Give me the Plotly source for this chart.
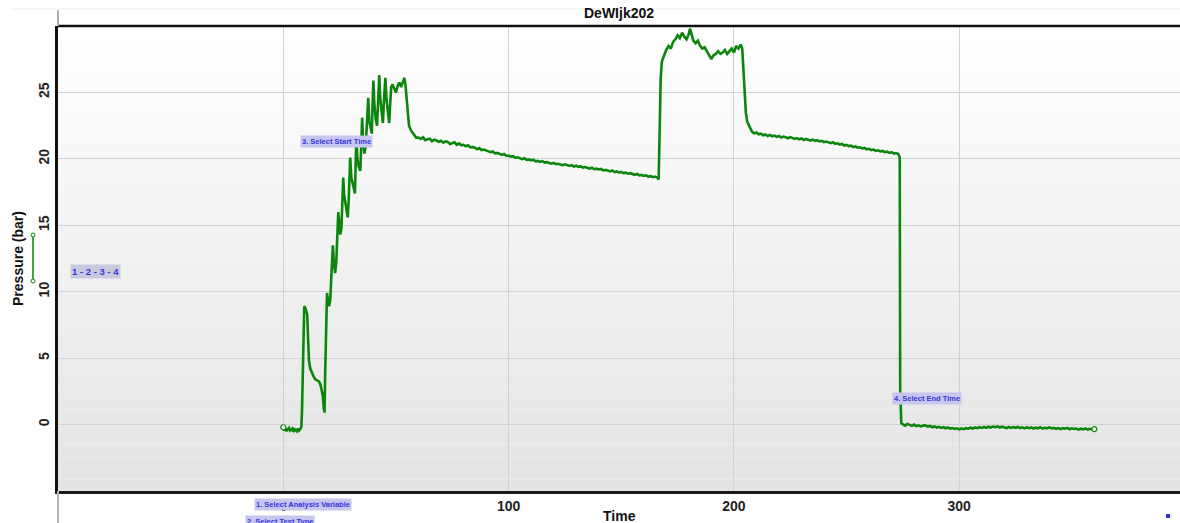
import plotly.graph_objects as go

# ---- logged pressure record (time in s, pressure in bar) ----
# pressurisation ramp with sawtooth steps
ramp_t = [0, 0.5, 1, 1.5, 2, 2.5, 3, 3.5, 4, 4.5, 5, 5.5, 6, 6.5, 7, 7.5, 8,
          8.3, 8.6, 9.0, 9.3, 9.7, 10.2, 10.6, 11.0, 11.4, 12.0, 12.8, 13.5, 14.2, 15.0, 15.8, 16.5, 17.0, 17.5, 18.0, 18.3,
          18.6, 19.0, 19.4, 19.8, 20.3, 20.8, 21.5, 22.0, 22.4, 23.0, 23.5, 24.0, 24.4, 24.8, 25.3, 25.8,
          26.3, 26.6, 27.0, 27.8, 28.6, 29.0, 29.4, 29.7, 30.2, 31.0, 31.8, 32.1, 32.4, 32.9, 33.5, 34.2,
          34.6, 35.0, 35.4, 36.0, 36.6, 37.2, 37.7, 38.2, 38.8, 39.3, 39.6, 40.0, 40.4, 41.0, 41.6,
          42.0, 42.6, 43.0, 43.6, 44.2, 44.7, 45.3, 45.8, 46.4, 47.0, 47.4, 47.9, 48.5, 49.3, 50.0,
          50.8, 51.5, 52.3, 53.0, 53.7, 54.2, 54.7, 55.2, 55.8, 56.8, 57.8, 59.0]
ramp_p = [-0.2, -0.45, -0.3, -0.5, -0.35, -0.25, -0.45, -0.4, -0.3, -0.55, -0.35, -0.4, -0.5, -0.3, -0.45, -0.35, -0.2,
          1.0, 4.5, 7.5, 8.9, 8.8, 8.6, 8.3, 6.5, 4.8, 4.2, 3.8, 3.6, 3.4, 3.3, 3.25, 3.0, 2.5, 2.2, 1.2, 0.9,
          4.0, 8.5, 9.9, 9.4, 8.9, 9.3, 11.5, 13.5, 12.3, 11.4, 12.2, 14.5, 16.0, 15.2, 14.3, 14.8,
          17.2, 18.6, 17.3, 16.3, 15.6, 16.8, 19.0, 20.1, 18.6, 18.0, 17.4, 19.5, 21.6, 20.0, 19.4, 19.1,
          21.0, 23.1, 21.4, 20.4, 21.0, 23.0, 24.6, 22.8, 22.2, 21.9, 24.0, 25.9, 24.2, 23.0, 22.5,
          24.5, 26.3, 24.6, 23.4, 22.7, 24.5, 26.1, 24.5, 23.3, 22.7, 24.0, 25.4, 25.6, 25.2, 25.0,
          25.5, 25.75, 25.4, 25.8, 26.1, 25.6, 24.4, 23.4, 22.5, 22.1, 21.9, 21.6]

# first hold, sampled every second from t = 60 s to 166 s
hold1_t = list(range(60, 167))
hold1_p = [21.6, 21.5, 21.62, 21.41, 21.47, 21.52, 21.33, 21.44, 21.38, 21.29,
           21.36, 21.22, 21.31, 21.27, 21.12, 21.2, 21.24, 21.05, 21.16, 21.02,
           21.06, 20.95, 21.02, 20.86, 20.9, 20.84, 20.73, 20.81, 20.66, 20.7,
           20.62, 20.58, 20.5, 20.56, 20.41, 20.45, 20.38, 20.3, 20.36, 20.22,
           20.25, 20.16, 20.2, 20.08, 20.12, 20.03, 19.98, 20.05, 19.93, 19.96,
           19.88, 19.94, 19.82, 19.85, 19.77, 19.83, 19.72, 19.75, 19.69, 19.64,
           19.7, 19.6, 19.63, 19.58, 19.52, 19.59, 19.5, 19.47, 19.53, 19.42,
           19.48, 19.4, 19.43, 19.34, 19.38, 19.31, 19.27, 19.33, 19.22, 19.26,
           19.2, 19.24, 19.13, 19.17, 19.1, 19.06, 19.12, 19.0, 19.05, 18.98,
           19.02, 18.93, 18.96, 18.88, 18.92, 18.84, 18.8, 18.86, 18.75, 18.79,
           18.72, 18.76, 18.66, 18.7, 18.62, 18.67, 18.58]

# boost step
boost_t = [166.6, 167.0, 167.5, 168.0, 168.5, 169.0, 169.5,
           170, 171, 172, 173, 174, 175, 176, 177, 178, 179, 180, 180.5,
           181, 182, 183, 184, 185, 186, 187, 188, 189, 190, 191, 192, 193, 194, 195,
           196, 197, 198, 199, 200, 201, 202, 203,
           203.7, 204.2, 204.7, 205.3, 205.9, 206.6, 207.3]
boost_p = [18.45, 22.0, 26.0, 27.3, 27.6, 27.8, 28.0,
           28.2, 28.5, 28.3, 28.8, 29.0, 29.3, 29.1, 29.5, 29.2, 29.0, 29.4, 29.8,
           29.5, 28.9, 28.7, 28.9, 28.5, 28.3, 28.4, 28.1, 27.9, 27.5, 27.8, 27.9, 28.1, 27.9, 28.0,
           28.2, 27.9, 28.1, 28.3, 28.0, 28.5, 28.3, 28.6,
           28.3, 27.0, 25.0, 23.5, 22.8, 22.5, 22.3]

# second hold, sampled every second from t = 208 s to 273 s
hold2_t = list(range(208, 274))
hold2_p = [22.05, 21.92, 21.98, 21.85, 21.9, 21.78, 21.84, 21.72, 21.8, 21.7,
           21.75, 21.66, 21.72, 21.6, 21.68, 21.63, 21.55, 21.64, 21.58, 21.5,
           21.56, 21.47, 21.53, 21.42, 21.5, 21.44, 21.38, 21.45, 21.35, 21.4,
           21.31, 21.36, 21.26, 21.3, 21.22, 21.18, 21.25, 21.13, 21.17, 21.08,
           21.12, 21.0, 21.05, 20.96, 20.99, 20.88, 20.93, 20.84, 20.87, 20.78,
           20.82, 20.72, 20.76, 20.66, 20.7, 20.6, 20.64, 20.56, 20.6, 20.5,
           20.54, 20.45, 20.5, 20.4, 20.44, 20.36]

# release
release_t = [273.6, 273.8, 274.3]
release_p = [20.1, 2.6, 0.1]

# vented tail, sampled every second from t = 275 s to 360 s
vent_t = list(range(275, 361))
vent_p = [0.02, -0.08, 0.05, -0.04, -0.1, 0.0, -0.12, -0.06, -0.14, -0.08,
          -0.05, -0.15, -0.1, -0.2, -0.14, -0.22, -0.17, -0.25, -0.2, -0.28,
          -0.22, -0.3, -0.26, -0.33, -0.28, -0.36, -0.3, -0.34, -0.27, -0.31,
          -0.24, -0.3, -0.22, -0.27, -0.2, -0.25, -0.18, -0.24, -0.16, -0.22,
          -0.15, -0.2, -0.14, -0.22, -0.16, -0.2, -0.27, -0.18, -0.25, -0.19,
          -0.24, -0.17, -0.26, -0.21, -0.29, -0.2, -0.27, -0.22, -0.3, -0.23,
          -0.28, -0.2, -0.3, -0.24, -0.28, -0.21, -0.29, -0.25, -0.32, -0.26,
          -0.34, -0.27, -0.31, -0.25, -0.35, -0.28, -0.33, -0.3, -0.38, -0.31,
          -0.36, -0.29, -0.38, -0.32, -0.36, -0.34]

x_ticks = [0, 100, 200, 300]
y_ticks = [0, 5, 10, 15, 20, 25]

time_s = ramp_t + hold1_t + boost_t + hold2_t + release_t + vent_t
pressure_bar = ramp_p + hold1_p + boost_p + hold2_p + release_p + vent_p

GREEN = "#0c850c"
FONT = "Liberation Sans, Arial, sans-serif"

fig = go.Figure()
fig.add_trace(go.Scatter(x=time_s, y=pressure_bar, mode="lines",
                         line=dict(color=GREEN, width=2.6), showlegend=False,
                         hoverinfo="skip"))
# selection handles at both ends of the record
fig.add_trace(go.Scatter(x=[time_s[0], time_s[-1]], y=[pressure_bar[0], pressure_bar[-1]],
                         mode="markers", showlegend=False, hoverinfo="skip",
                         marker=dict(size=5, color="white", line=dict(color=GREEN, width=1.2))))

# plot area background: vertical white-to-grey gradient
shapes = []
n_strips = 40
for i in range(n_strips):
    f = (i + 0.5) / n_strips
    g = int(round(228 + (255 - 228) * f))
    shapes.append(dict(type="rect", xref="paper", yref="paper", x0=0, x1=1,
                       y0=i / n_strips, y1=(i + 1) / n_strips, layer="below",
                       line=dict(width=0), fillcolor=f"rgb({g},{g},{g})"))

# frame lines
shapes += [
    dict(type="line", xref="paper", yref="paper", x0=0, x1=1, y0=1, y1=1,
         line=dict(color="#111", width=2.5)),
    dict(type="line", xref="paper", yref="paper", x0=0, x1=0, y0=1, y1=1.034,
         line=dict(color="#aaaaaa", width=2)),
    dict(type="line", xref="paper", yref="paper", x0=0, x1=0, y0=0, y1=-0.075,
         line=dict(color="#b5b5b5", width=2)),
    dict(type="line", xref="paper", yref="paper", x0=-0.042, x1=1, y0=1.0366, y1=1.0366,
         line=dict(color="#eeeeee", width=1)),
]

# series swatch at the left
sw_x = -0.0223
sw_top, sw_bot = 0.5505, 0.4516
shapes.append(dict(type="line", xref="paper", yref="paper", x0=sw_x, x1=sw_x,
                   y0=sw_bot, y1=sw_top, line=dict(color=GREEN, width=1.5)))
for yy in (sw_bot, sw_top):
    shapes.append(dict(type="circle", xref="paper", yref="paper",
                       x0=sw_x - 0.0018, x1=sw_x + 0.0018, y0=yy - 0.0043, y1=yy + 0.0043,
                       fillcolor="white", line=dict(color=GREEN, width=1)))

# small icon bottom right
shapes.append(dict(type="rect", xref="paper", yref="paper", x0=0.9875, x1=0.9912,
                   y0=-0.058, y1=-0.0495, fillcolor="#2a2ae0", line=dict(width=0)))

tag_font = dict(family=FONT, size=7.5, color="#3535e0", weight="bold")
TAG_BG = "#c6c6ee"
annotations = [
    dict(text="DeWIjk202", xref="paper", yref="paper", x=0.5, y=1, yanchor="bottom",
         yshift=3, showarrow=False, font=dict(family=FONT, size=14, color="#111", weight="bold")),
    dict(text="Time", xref="paper", yref="paper", x=0.5, y=-0.054, yanchor="middle",
         showarrow=False, font=dict(family=FONT, size=14, color="#111", weight="bold")),
    dict(text="Pressure (bar)", xref="paper", yref="paper", x=-0.0357, y=0.501,
         textangle=-90, showarrow=False, xanchor="center", yanchor="middle",
         font=dict(family=FONT, size=14, color="#111", weight="bold")),
    dict(text="1 - 2 - 3 - 4", xref="x", yref="y", x=-94.5, y=11.5, xanchor="left",
         showarrow=False, bgcolor="#c9c9dd", borderpad=1,
         font=dict(family=FONT, size=9.5, color="#3535e0", weight="bold")),
    dict(text="3. Select Start Time", xref="x", yref="y", x=7.6, y=21.3, xanchor="left",
         showarrow=False, bgcolor=TAG_BG, borderpad=1, font=tag_font),
    dict(text="4. Select End Time", xref="x", yref="y", x=270.0, y=1.95, xanchor="left",
         showarrow=False, bgcolor=TAG_BG, borderpad=1, font=tag_font),
    dict(text="1. Select Analysis Variable", xref="x", yref="paper", x=-12.8, y=-0.028,
         xanchor="left", yanchor="middle", showarrow=False, bgcolor=TAG_BG, borderpad=1,
         font=tag_font),
    dict(text="2. Select Test Type", xref="x", yref="paper", x=-16.8, y=-0.066,
         xanchor="left", yanchor="middle", showarrow=False, bgcolor=TAG_BG, borderpad=1,
         font=tag_font),
]

fig.update_layout(
    width=1180, height=523,
    margin=dict(l=58, r=0, t=26, b=32),
    paper_bgcolor="white", plot_bgcolor="rgba(0,0,0,0)",
    shapes=shapes, annotations=annotations,
    xaxis=dict(range=[-100, 398], tickvals=x_ticks, ticktext=[str(v) for v in x_ticks],
               showgrid=True, gridcolor="#d2d2d2", gridwidth=1, zeroline=False,
               showline=True, linecolor="#1a1a1a", linewidth=3, ticks="",
               tickfont=dict(family=FONT, size=14, color="#222", weight="bold")),
    yaxis=dict(range=[-5, 30], tickvals=y_ticks, ticktext=[str(v) for v in y_ticks],
               tickangle=-90, showgrid=True, gridcolor="#d2d2d2", gridwidth=1, zeroline=False,
               showline=True, linecolor="#111", linewidth=3, ticks="",
               tickfont=dict(family=FONT, size=14, color="#222", weight="bold")),
)

fig.write_html("out.html")
